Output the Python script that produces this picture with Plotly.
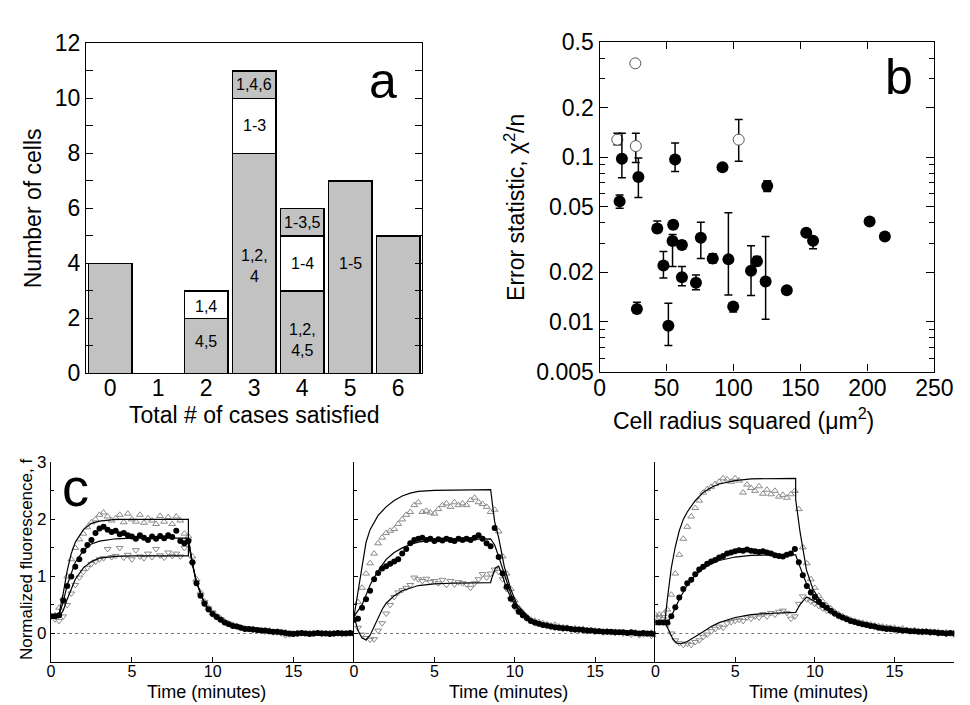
import math
import plotly.graph_objects as go

FONT = "Liberation Sans, Arial, sans-serif"

# ---------------- panel a: histogram of satisfied cases ----------------
CASES = [0, 1, 2, 3, 4, 5, 6]
GRAY_LOW = [4, 0, 2, 8, 3, 7, 5]
WHITE_MID = [0, 0, 1, 2, 2, 0, 0]
GRAY_TOP = [0, 0, 0, 1, 1, 0, 0]

# ---------------- panel b: error statistic vs cell size ----------------
R2_FILLED = [16.7, 29, 15, 56.4, 91.8, 125.2, 43.1, 55, 54.5, 61.5, 75.6, 84.5, 96.2, 47.7,
             61.5, 72, 113.1, 117.5, 124, 139.8, 154.3, 159.4, 201.6, 213, 27.9, 51.4, 99.8]
CHI_FILLED = [0.098, 0.076, 0.054, 0.097, 0.087, 0.067, 0.037, 0.039, 0.031, 0.0293, 0.0325, 0.0243, 0.024, 0.022,
              0.0187, 0.0173, 0.0205, 0.0234, 0.0176, 0.0156, 0.0348, 0.0311, 0.0407, 0.033, 0.012, 0.0095, 0.0124]
CHI_FILLED_LO = [0.075, 0.057, 0.049, 0.082, 0.087, 0.062, 0.035, 0.037, 0.0217, 0.028, 0.0243, 0.0228, 0.0146, 0.0185,
                 0.0166, 0.0157, 0.0145, 0.022, 0.0104, 0.0156, 0.0348, 0.0278, 0.0407, 0.033, 0.0113, 0.0072, 0.0115]
CHI_FILLED_HI = [0.140, 0.099, 0.059, 0.122, 0.087, 0.072, 0.041, 0.041, 0.034, 0.031, 0.0403, 0.026, 0.0461, 0.0268,
                 0.0217, 0.0193, 0.029, 0.025, 0.033, 0.0156, 0.0348, 0.0311, 0.0407, 0.033, 0.0132, 0.013, 0.013]

R2_OPEN = [26.7, 13.3, 27.1, 103.9]
CHI_OPEN = [0.372, 0.128, 0.117, 0.128]
CHI_OPEN_LO = [0.372, 0.119, 0.093, 0.0946]
CHI_OPEN_HI = [0.372, 0.140, 0.140, 0.1695]

# ---------------- panel c: fluorescence time courses ----------------
T = [0, 0.25, 0.5, 0.75, 1, 1.25, 1.5, 1.75, 2, 2.25, 2.5, 2.75, 3, 3.25, 3.5, 3.75,
     4, 4.25, 4.5, 4.75, 5, 5.25, 5.5, 5.75, 6, 6.25, 6.5, 6.75, 7, 7.25, 7.5, 7.75,
     8, 8.25, 8.5, 8.75, 9, 9.25, 9.5, 9.75, 10, 10.25, 10.5, 10.75, 11, 11.25, 11.5, 11.75,
     12, 12.25, 12.5, 12.75, 13, 13.25, 13.5, 13.75, 14, 14.25, 14.5, 14.75, 15, 15.25, 15.5, 15.75,
     16, 16.25, 16.5, 16.75, 17, 17.25, 17.5, 17.75, 18, 18.25, 18.5, 18.75]

# cell 1
C1_CIRC = [0.30, 0.30, 0.32, 0.58, 0.83, 1.00, 1.17, 1.30, 1.45, 1.55, 1.64, 1.76, 1.84, 1.87, 1.82, 1.78,
           1.80, 1.74, 1.76, 1.72, 1.70, 1.66, 1.72, 1.68, 1.64, 1.70, 1.66, 1.71, 1.67, 1.72, 1.69, 1.80,
           1.62, 1.58, 1.62, 1.25, 0.88, 0.66, 0.52, 0.42, 0.34, 0.29, 0.24, 0.19, 0.16, 0.13, 0.12, 0.10,
           0.08, 0.08, 0.07, 0.06, 0.05, 0.05, 0.04, 0.03, 0.03, 0.02, 0.01, 0.00, -0.01, 0.00, 0.01, 0.00,
           -0.01, 0.00, 0.01, 0.00, 0.00, -0.01, 0.00, 0.01, 0.00, 0.00, 0.01, 0.00]
C1_UP = [0.30, 0.32, 0.45, 0.62, 1.00, 1.30, 1.50, 1.65, 1.75, 1.86, 1.95, 2.00, 2.08, 2.12, 2.05, 1.98,
         2.02, 2.08, 1.95, 2.10, 2.00, 1.96, 2.08, 1.94, 2.02, 1.98, 1.92, 2.06, 1.96, 2.04, 1.92, 2.05,
         1.98, 1.75, 1.70, 1.35, 0.95, 0.72, 0.56, 0.45, 0.36, 0.31, 0.26, 0.21, 0.17, 0.15, 0.12, 0.10,
         0.09, 0.07, 0.08, 0.06, 0.05, 0.04, 0.05, 0.02, 0.03, 0.01, 0.02, -0.02, 0.00, 0.01, -0.01, 0.00,
         0.01, 0.00, -0.01, 0.01, 0.00, 0.01, 0.00, -0.01, 0.01, 0.00, 0.00, 0.01]
C1_DOWN = [0.30, 0.25, 0.22, 0.30, 0.50, 0.70, 0.85, 0.98, 1.08, 1.15, 1.22, 1.26, 1.30, 1.32, 1.48, 1.34,
           1.36, 1.50, 1.33, 1.38, 1.30, 1.46, 1.35, 1.32, 1.40, 1.34, 1.48, 1.37, 1.33, 1.42, 1.36, 1.40,
           1.35, 1.50, 1.62, 1.22, 0.90, 0.68, 0.55, 0.44, 0.37, 0.30, 0.25, 0.20, 0.17, 0.14, 0.13, 0.10,
           0.09, 0.08, 0.06, 0.07, 0.05, 0.03, 0.04, 0.02, 0.02, 0.00, -0.03, -0.02, 0.01, -0.01, 0.00, 0.01,
           0.00, -0.01, 0.01, 0.00, 0.01, 0.00, -0.01, 0.00, 0.00, 0.01, 0.00, -0.01]
C1_FIT_UP_T = [0, 0.5, 0.75, 1.0, 1.25, 1.5, 2.0, 2.5, 3.0, 4.0, 5.0, 8.5, 8.5, 8.75, 9.0, 9.5, 10.0, 10.5, 11.0, 12.0, 13.0, 15.0, 18.75]
C1_FIT_UP = [0.30, 0.35, 0.70, 1.10, 1.40, 1.60, 1.82, 1.93, 1.97, 2.00, 2.00, 2.00, 1.65, 1.22, 0.90, 0.52, 0.34, 0.23, 0.15, 0.07, 0.03, 0.01, 0.00]
C1_FIT_MID_T = [0, 0.5, 0.75, 1.0, 1.5, 2.0, 2.5, 3.0, 4.0, 5.0, 8.5, 8.75, 9.0, 9.5, 10.0, 10.5, 11.0, 12.0, 13.0, 15.0, 18.75]
C1_FIT_MID = [0.30, 0.33, 0.55, 0.85, 1.25, 1.45, 1.57, 1.62, 1.66, 1.67, 1.67, 1.22, 0.90, 0.52, 0.34, 0.23, 0.15, 0.07, 0.03, 0.01, 0.00]
C1_FIT_LOW_T = [0, 0.5, 0.75, 1.0, 1.5, 2.0, 2.5, 3.0, 4.0, 5.0, 8.5, 8.5, 8.75, 9.0, 9.5, 10.0, 10.5, 11.0, 12.0, 13.0, 15.0, 18.75]
C1_FIT_LOW = [0.30, 0.30, 0.40, 0.60, 0.95, 1.15, 1.26, 1.32, 1.35, 1.36, 1.36, 1.58, 1.22, 0.90, 0.52, 0.34, 0.23, 0.15, 0.07, 0.03, 0.01, 0.00]

# cell 2
C2_CIRC = [0.24, 0.26, 0.45, 0.60, 0.75, 0.95, 1.06, 1.14, 1.18, 1.22, 1.26, 1.30, 1.40, 1.48, 1.58, 1.64,
           1.66, 1.68, 1.64, 1.66, 1.62, 1.65, 1.63, 1.66, 1.64, 1.62, 1.66, 1.64, 1.66, 1.64, 1.68, 1.72,
           1.66, 1.58, 1.53, 1.85, 1.34, 1.05, 0.82, 0.61, 0.48, 0.38, 0.32, 0.27, 0.22, 0.19, 0.17, 0.15,
           0.14, 0.12, 0.11, 0.10, 0.09, 0.09, 0.08, 0.07, 0.07, 0.06, 0.05, 0.05, 0.04, 0.04, 0.03, 0.03,
           0.03, 0.02, 0.02, 0.02, 0.01, 0.02, 0.01, 0.00, 0.01, 0.00, 0.00, -0.01]
C2_UP = [0.30, 0.55, 0.80, 1.05, 1.23, 1.40, 1.58, 1.68, 1.76, 1.80, 1.83, 1.92, 2.00, 2.08, 2.13, 2.25,
         2.30, 2.13, 2.15, 2.12, 2.10, 2.18, 2.25, 2.28, 2.22, 2.30, 2.25, 2.28, 2.25, 2.34, 2.38, 2.30,
         2.27, 2.22, 2.13, 2.17, 1.79, 1.35, 1.05, 0.78, 0.58, 0.45, 0.37, 0.30, 0.24, 0.22, 0.20, 0.18,
         0.16, 0.14, 0.15, 0.12, 0.11, 0.10, 0.08, 0.09, 0.07, 0.08, 0.06, 0.05, 0.05, 0.04, 0.03, 0.04,
         0.02, 0.03, 0.01, 0.02, 0.01, 0.00, 0.02, -0.01, 0.00, -0.02, 0.01, -0.03]
C2_DOWN = [0.28, 0.10, -0.02, -0.08, -0.11, -0.10, 0.05, 0.18, 0.35, 0.50, 0.64, 0.72, 0.76, 0.80, 0.85, 0.98,
           0.95, 0.92, 0.96, 0.90, 0.92, 0.88, 0.94, 0.85, 0.92, 0.86, 0.90, 0.88, 0.86, 0.80, 0.88, 0.95,
           1.04, 0.98, 1.05, 1.12, 1.08, 0.95, 0.78, 0.60, 0.46, 0.38, 0.32, 0.26, 0.22, 0.18, 0.17, 0.15,
           0.13, 0.12, 0.10, 0.11, 0.08, 0.09, 0.07, 0.06, 0.06, 0.05, 0.04, 0.06, 0.03, 0.04, 0.02, 0.03,
           0.02, 0.01, 0.03, 0.00, 0.01, -0.02, 0.00, -0.03, -0.02, 0.00, -0.04, -0.01]
C2_FIT_UP_T = [0, 0.25, 0.5, 0.75, 1.0, 1.5, 2.0, 2.5, 3.0, 3.5, 4.0, 5.0, 8.5, 8.75, 9.0, 9.35, 9.75, 10.15, 11.0, 12.0, 13.0, 15.0, 17.0, 18.75]
C2_FIT_UP = [0.30, 0.75, 1.20, 1.60, 1.82, 2.07, 2.22, 2.33, 2.41, 2.46, 2.49, 2.51, 2.52, 1.96, 1.68, 1.17, 0.78, 0.50, 0.24, 0.13, 0.08, 0.04, 0.02, 0.01]
C2_FIT_MID_T = [0, 0.5, 1.0, 1.5, 2.0, 2.5, 3.0, 3.5, 4.0, 5.0, 8.5, 8.75, 9.0, 9.35, 9.75, 10.15, 11.0, 12.0, 13.0, 15.0, 17.0, 18.75]
C2_FIT_MID = [0.30, 0.50, 0.85, 1.10, 1.30, 1.42, 1.50, 1.56, 1.60, 1.64, 1.66, 1.55, 1.35, 1.05, 0.70, 0.46, 0.24, 0.13, 0.08, 0.04, 0.02, 0.01]
C2_FIT_LOW_T = [0, 0.25, 0.5, 0.75, 1.0, 1.25, 1.5, 1.75, 2.0, 2.5, 3.0, 3.5, 4.0, 5.0, 6.0, 8.5, 8.55, 8.8, 9.0, 9.25, 9.5, 10.0, 10.5, 11.0, 12.0, 13.0, 15.0, 18.75]
C2_FIT_LOW = [0.30, 0.05, -0.08, -0.11, -0.03, 0.12, 0.28, 0.42, 0.53, 0.66, 0.75, 0.80, 0.84, 0.87, 0.88, 0.89, 0.95, 1.15, 1.18, 1.00, 0.78, 0.50, 0.33, 0.22, 0.12, 0.08, 0.04, 0.01]

# cell 3
C3_CIRC = [0.19, 0.19, 0.19, 0.19, 0.30, 0.46, 0.63, 0.78, 0.88, 0.94, 1.04, 1.12, 1.17, 1.22, 1.26, 1.29,
           1.33, 1.36, 1.40, 1.42, 1.44, 1.46, 1.45, 1.47, 1.45, 1.44, 1.43, 1.44, 1.42, 1.40, 1.37, 1.36,
           1.35, 1.38, 1.40, 1.48, 1.25, 1.02, 0.83, 0.72, 0.64, 0.56, 0.50, 0.45, 0.40, 0.35, 0.31, 0.28,
           0.25, 0.22, 0.20, 0.18, 0.16, 0.15, 0.13, 0.12, 0.10, 0.09, 0.08, 0.08, 0.07, 0.06, 0.05, 0.05,
           0.04, 0.04, 0.03, 0.03, 0.03, 0.02, 0.02, 0.01, 0.01, 0.00, 0.01, 0.00]
C3_UP = [0.33, 0.33, 0.34, 0.42, 0.68, 1.05, 1.38, 1.66, 1.87, 2.05, 2.20, 2.33, 2.47, 2.53, 2.57, 2.62,
         2.66, 2.72, 2.70, 2.66, 2.72, 2.68, 2.47, 2.61, 2.55, 2.50, 2.58, 2.45, 2.52, 2.44, 2.50, 2.40,
         2.43, 2.38, 2.44, 2.50, 2.18, 1.51, 1.23, 0.95, 0.80, 0.66, 0.56, 0.49, 0.44, 0.38, 0.34, 0.30,
         0.27, 0.24, 0.22, 0.20, 0.19, 0.17, 0.16, 0.14, 0.13, 0.12, 0.11, 0.10, 0.10, 0.08, 0.09, 0.06,
         0.05, 0.06, 0.04, 0.04, 0.04, 0.03, 0.02, 0.03, 0.01, 0.02, 0.00, 0.01]
C3_DOWN = [0.30, 0.28, 0.25, 0.15, 0.00, -0.12, -0.17, -0.20, -0.18, -0.20, -0.15, -0.12, -0.06, -0.02, 0.04, 0.08,
           0.12, 0.10, 0.18, 0.20, 0.22, 0.24, 0.22, 0.28, 0.26, 0.30, 0.28, 0.34, 0.30, 0.36, 0.33, 0.38,
           0.40, 0.36, 0.26, 0.30, 0.52, 0.65, 0.60, 0.56, 0.52, 0.48, 0.44, 0.40, 0.38, 0.34, 0.30, 0.28,
           0.26, 0.23, 0.21, 0.19, 0.17, 0.16, 0.15, 0.12, 0.12, 0.10, 0.11, 0.08, 0.07, 0.08, 0.05, 0.06,
           0.04, 0.05, 0.03, 0.02, 0.03, 0.01, 0.02, 0.00, 0.01, -0.01, 0.00, -0.02]
C3_FIT_UP_T = [0, 0.6, 0.75, 1.0, 1.25, 1.5, 1.75, 2.0, 2.5, 3.0, 3.5, 4.0, 5.0, 6.0, 8.8, 8.8, 9.07, 9.48, 9.88, 10.5, 11.5, 13.1, 15.2, 17.2, 18.75]
C3_FIT_UP = [0.20, 0.22, 0.60, 1.15, 1.52, 1.80, 2.00, 2.13, 2.33, 2.47, 2.56, 2.62, 2.68, 2.71, 2.72, 2.35, 1.79, 1.11, 0.78, 0.50, 0.30, 0.13, 0.06, 0.02, 0.00]
C3_FIT_MID_T = [0, 0.75, 1.0, 1.5, 2.0, 2.5, 3.0, 3.5, 4.0, 5.0, 6.0, 8.8, 9.0, 9.5, 10.0, 10.5, 11.0, 12.0, 13.0, 14.0, 15.0, 17.0, 18.75]
C3_FIT_MID = [0.20, 0.20, 0.30, 0.60, 0.85, 1.02, 1.14, 1.22, 1.28, 1.34, 1.37, 1.38, 1.22, 0.86, 0.63, 0.48, 0.38, 0.25, 0.17, 0.11, 0.07, 0.03, 0.01]
C3_FIT_LOW_T = [0, 0.6, 0.85, 1.1, 1.35, 1.6, 2.0, 2.5, 3.0, 3.5, 4.0, 5.0, 6.0, 7.0, 8.8, 9.1, 9.5, 10.0, 10.5, 11.0, 12.0, 13.0, 14.0, 15.0, 17.0, 18.75]
C3_FIT_LOW = [0.20, 0.20, 0.05, -0.10, -0.17, -0.18, -0.14, -0.06, 0.03, 0.12, 0.19, 0.28, 0.33, 0.35, 0.37, 0.52, 0.64, 0.56, 0.46, 0.38, 0.26, 0.18, 0.12, 0.08, 0.03, 0.01]

CELLS = [
    (C1_UP, C1_CIRC, C1_DOWN,
     [(C1_FIT_UP_T, C1_FIT_UP), (C1_FIT_MID_T, C1_FIT_MID), (C1_FIT_LOW_T, C1_FIT_LOW)]),
    (C2_UP, C2_CIRC, C2_DOWN,
     [(C2_FIT_UP_T, C2_FIT_UP), (C2_FIT_MID_T, C2_FIT_MID), (C2_FIT_LOW_T, C2_FIT_LOW)]),
    (C3_UP, C3_CIRC, C3_DOWN,
     [(C3_FIT_UP_T, C3_FIT_UP), (C3_FIT_MID_T, C3_FIT_MID), (C3_FIT_LOW_T, C3_FIT_LOW)]),
]

fig = go.Figure()

# ---- panel a: stacked bars (zero segments left out so they draw nothing)
BAR_GRAY = '#c2c2c2'
for vals, colour in [(GRAY_LOW, BAR_GRAY), (WHITE_MID, 'white'), (GRAY_TOP, BAR_GRAY)]:
    fig.add_trace(go.Bar(
        x=CASES, y=[v if v else None for v in vals], width=0.91,
        marker=dict(color=colour, line=dict(color='black', width=1.5)),
        xaxis='x', yaxis='y', showlegend=False, hoverinfo='skip'))

# ---- panel b: scatter with error bars
fig.add_trace(go.Scatter(
    x=R2_OPEN, y=CHI_OPEN, mode='markers', xaxis='x2', yaxis='y2', showlegend=False,
    marker=dict(symbol='circle', size=11, color='white', line=dict(color='#555', width=1)),
    error_y=dict(type='data', symmetric=False,
                 array=[h - y for h, y in zip(CHI_OPEN_HI, CHI_OPEN)],
                 arrayminus=[y - l for y, l in zip(CHI_OPEN, CHI_OPEN_LO)],
                 color='black', thickness=1.5, width=4)))
fig.add_trace(go.Scatter(
    x=R2_FILLED, y=CHI_FILLED, mode='markers', xaxis='x2', yaxis='y2', showlegend=False,
    marker=dict(symbol='circle', size=12, color='black'),
    error_y=dict(type='data', symmetric=False,
                 array=[h - y for h, y in zip(CHI_FILLED_HI, CHI_FILLED)],
                 arrayminus=[y - l for y, l in zip(CHI_FILLED, CHI_FILLED_LO)],
                 color='black', thickness=1.5, width=4)))

# ---- panel c: three time courses
TRI_GRAY = '#8a8a8a'
for i, (up, circ, down, fits) in enumerate(CELLS):
    xa, ya = 'x%d' % (i + 3), 'y%d' % (i + 3)
    fig.add_trace(go.Scatter(x=T, y=down, mode='markers', xaxis=xa, yaxis=ya, showlegend=False,
                             marker=dict(symbol='triangle-down-open', size=6, color=TRI_GRAY, line=dict(width=1))))
    fig.add_trace(go.Scatter(x=T, y=up, mode='markers', xaxis=xa, yaxis=ya, showlegend=False,
                             marker=dict(symbol='triangle-up-open', size=6, color=TRI_GRAY, line=dict(width=1))))
    fig.add_trace(go.Scatter(x=T, y=circ, mode='markers', xaxis=xa, yaxis=ya, showlegend=False,
                             marker=dict(symbol='circle', size=6, color='black')))
    for ft, fv in fits:
        fig.add_trace(go.Scatter(x=ft, y=fv, mode='lines', xaxis=xa, yaxis=ya, showlegend=False,
                                 line=dict(color='black', width=1.2)))
    fig.add_shape(type='line', xref='%s domain' % xa, yref=ya, x0=0, x1=1, y0=0, y1=0,
                  line=dict(color='#777', width=1, dash='dot'), layer='below')

# ---- axes
base = dict(showline=True, linecolor='black', linewidth=1.2, showgrid=False, zeroline=False,
            ticks='inside', tickcolor='black', tickwidth=1.2)
big = dict(size=23, color='black', family=FONT)
small = dict(size=16, color='black', family=FONT)

c_dom_y = [0.056, 0.350]
c_dom_x = [[0.0392, 0.3598], [0.3598, 0.6787], [0.6787, 0.9950]]

layout = dict(
    width=970, height=705, margin=dict(l=0, r=0, t=0, b=0),
    paper_bgcolor='white', plot_bgcolor='white', barmode='stack',
    font=dict(family=FONT, color='black'),
    xaxis=dict(base, domain=[0.0763, 0.432], range=[-0.5, 6.5], tickvals=CASES, ticks='',
               mirror=True, tickfont=big, anchor='y', ticklabelstandoff=-6),
    yaxis=dict(base, domain=[0.481, 0.967], range=[0, 12], dtick=2, ticklen=7, mirror='ticks',
               tickfont=big, anchor='x',
               minor=dict(dtick=1, ticks='inside', ticklen=7, tickcolor='black', tickwidth=1.2)),
    xaxis2=dict(base, domain=[0.6196, 0.974], range=[0, 250], dtick=50, ticklen=7, mirror='ticks',
                tickfont=big, anchor='y2', ticklabelstandoff=-4),
    yaxis2=dict(base, domain=[0.4837, 0.9688], type='log',
                range=[math.log10(0.005), math.log10(0.5)],
                tickvals=[0.005, 0.01, 0.02, 0.05, 0.1, 0.2, 0.5],
                ticktext=['0.005', '0.01', '0.02', '0.05', '0.1', '0.2', '0.5'],
                ticklen=8, mirror='ticks', tickfont=big, anchor='x2',
                minor=dict(tickvals=[0.006, 0.007, 0.008, 0.009, 0.03, 0.04, 0.06, 0.07, 0.08, 0.09, 0.3, 0.4],
                           ticks='inside', ticklen=5, tickcolor='black', tickwidth=1.2)),
)
for i in range(3):
    n = i + 3
    layout['xaxis%d' % n] = dict(base, domain=c_dom_x[i], range=[0, 18.75], tickvals=[0, 5, 10, 15],
                                 ticklen=5, tickfont=small, anchor='y%d' % n, ticklabelstandoff=-5)
    layout['yaxis%d' % n] = dict(base, domain=c_dom_y, range=[-0.5, 3], dtick=1, ticklen=4,
                                 tickfont=dict(small, size=17), anchor='x%d' % n, showticklabels=(i == 0),
                                 minor=dict(dtick=0.5, ticks='inside', ticklen=3, tickcolor='black'))
fig.update_layout(**layout)

# ---- texts: segment labels, panel letters, axis titles
SEG_LABELS = [(2, 1.15, '4,5'), (2, 2.45, '1,4'),
              (3, 3.9, '1,2,<br>4'), (3, 9.0, '1-3'), (3, 10.5, '1,4,6'),
              (4, 1.2, '1,2,<br>4,5'), (4, 4.0, '1-4'), (4, 5.5, '1-3,5'),
              (5, 4.0, '1-5')]
ann = []
for cx, cy, txt in SEG_LABELS:
    ann.append(dict(x=cx, y=cy, xref='x', yref='y', text=txt, showarrow=False,
                    font=dict(size=16, color='black', family=FONT)))


def paper_text(x, y, txt, size, angle=0):
    return dict(x=x, y=y, xref='paper', yref='paper', text=txt, showarrow=False,
                textangle=angle, xanchor='center', yanchor='middle',
                font=dict(size=size, color='black', family=FONT))


ann += [
    paper_text(0.390, 0.912, 'a', 50),
    paper_text(0.936, 0.918, 'b', 50),
    paper_text(0.065, 0.313, 'c', 54),
    paper_text(0.021, 0.724, 'Number of cells', 23, -90),
    paper_text(0.254, 0.420, 'Total # of cases satisfied', 23),
    paper_text(0.530, 0.726, 'Error statistic, χ<sup>2</sup>/n', 23, -90),
    paper_text(0.772, 0.414, 'Cell radius squared (μm<sup>2</sup>)', 23),
    paper_text(0.013, 0.208, 'Normalized fluorescence, f', 17, -90),
]
for dom in c_dom_x:
    ann.append(paper_text((dom[0] + dom[1]) / 2 + 0.004, 0.0125, 'Time (minutes)', 18))
fig.update_layout(annotations=ann)

fig.write_html("out.html")
